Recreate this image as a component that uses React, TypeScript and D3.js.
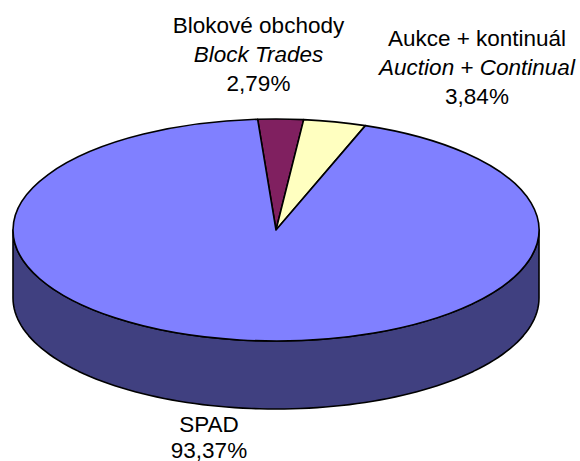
import React from 'react';
import * as d3 from 'd3';

// slices in drawing order, clockwise from 12 o'clock
const names = ['Blokové obchody', 'Aukce + kontinuál', 'SPAD'];
const namesEn = ['Block Trades', 'Auction + Continual', ''];
const shares = [2.79, 3.84, 93.37];
const topColors = ['#802060', '#FFFFC0', '#8080FF'];
const sideColors = ['#401030', '#808060', '#404080'];

const W = 580;
const H = 461;

// pie geometry (flat projection of a 3d disc)
const cx = 276;
const cy = 230;
const rx = 263;
const ry = 111;
const depth = 68;
const rotation = -4; // degrees, first slice starts a bit left of top

const fontSize = 22.5;

const App = () => {
  const rad = (rotation * Math.PI) / 180;
  const pie = d3.pie<number>().sort(null).startAngle(rad).endAngle(rad + 2 * Math.PI);
  const arcs = pie(shares);

  const arc = d3.arc<d3.PieArcDatum<number>>().innerRadius(0).outerRadius(rx);

  // point on ellipse, d3 angle convention (0 = top, clockwise)
  const pt = (a: number, dy = 0): [number, number] => [cx + rx * Math.sin(a), cy - ry * Math.cos(a) + dy];

  // visible side wall = front half of the disc, pi/2 .. 3pi/2
  const sides = arcs
    .map((d, i) => {
      const a0 = Math.max(d.startAngle, Math.PI / 2);
      const a1 = Math.min(d.endAngle, (3 * Math.PI) / 2);
      if (a1 <= a0) return null;
      const steps = d3.range(0, 101).map((k) => a0 + ((a1 - a0) * k) / 100);
      const top = steps.map((a) => pt(a));
      const bottom = steps.slice().reverse().map((a) => pt(a, depth));
      const line = d3.line();
      return { i, d: line([...top, ...bottom]) + 'Z' };
    })
    .filter(Boolean) as { i: number; d: string }[];

  const lineH = 29;

  return (
    <svg width={W} height={H} style={{ position: 'absolute', left: 0, top: 0, background: '#fff' }}
      fontFamily="Arial, 'Liberation Sans', sans-serif" fontSize={fontSize}>
      {sides.map((s) => (
        <path key={'s' + s.i} d={s.d} fill={sideColors[s.i]} stroke="#000" strokeWidth={1.6} strokeLinejoin="round" />
      ))}
      <g transform={`translate(${cx},${cy}) scale(1,${ry / rx})`}>
        {arcs.map((d, i) => (
          <path key={'t' + i} d={arc(d) || ''} fill={topColors[i]} stroke="#000" strokeWidth={1.6}
            strokeLinejoin="round" vectorEffect="non-scaling-stroke" />
        ))}
      </g>

      {/* labels */}
      <text x={258.5} y={33} textAnchor="middle">
        <tspan x={258.5}>{names[0]}</tspan>
        <tspan x={258.5} dy={lineH} fontStyle="italic">{namesEn[0]}</tspan>
        <tspan x={258.5} dy={lineH}>{shares[0].toFixed(2).replace('.', ',')}%</tspan>
      </text>
      <text x={477} y={46} textAnchor="middle">
        <tspan x={477}>{names[1]}</tspan>
        <tspan x={477} dy={lineH}>
          <tspan fontStyle="italic">Auction</tspan> + <tspan fontStyle="italic">Continual</tspan>
        </tspan>
        <tspan x={477} dy={lineH}>{shares[1].toFixed(2).replace('.', ',')}%</tspan>
      </text>
      <text x={209} y={432} textAnchor="middle">
        <tspan x={209}>{names[2]}</tspan>
        <tspan x={209} dy={26}>{shares[2].toFixed(2).replace('.', ',')}%</tspan>
      </text>
    </svg>
  );
};

export default App;
